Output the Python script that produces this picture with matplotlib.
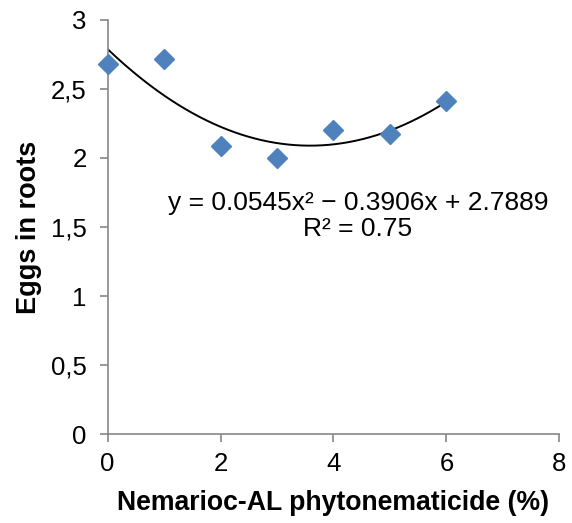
import matplotlib.pyplot as plt
import numpy as np

plt.rcParams['font.family'] = ['Liberation Sans', 'DejaVu Sans']

# data
conc = [0, 1, 2, 3, 4, 5, 6]
eggs = [2.68, 2.72, 2.09, 2.00, 2.20, 2.17, 2.41]
coef = [0.0545, -0.3906, 2.7889]  # trendline y = a x^2 + b x + c
xticks = [0, 2, 4, 6, 8]
yticks = [0, 0.5, 1, 1.5, 2, 2.5, 3]
ytick_labels = ['0', '0,5', '1', '1,5', '2', '2,5', '3']

fig = plt.figure(figsize=(5.72, 5.23), dpi=100)
ax = fig.add_axes([0.188, 0.170, 0.790, 0.792])

xs = np.linspace(min(conc), max(conc), 200)
ax.plot(xs, np.polyval(coef, xs), color='black', lw=1.4, zorder=2)
ax.plot(conc, eggs, linestyle='none', marker='D', ms=10.5, color='#4F81BD',
        markeredgecolor='#4F81BD', zorder=3, clip_on=False)

ax.set_xlim(0, 8)
ax.set_ylim(0, 3)
ax.set_xticks(xticks)
ax.set_yticks(yticks)
ax.set_yticklabels(ytick_labels)

for s in ['top', 'right']:
    ax.spines[s].set_visible(False)
for s in ['left', 'bottom']:
    ax.spines[s].set_color('#868686')
    ax.spines[s].set_linewidth(1.2)
ax.tick_params(direction='out', length=6, width=1.2, color='#868686',
               labelsize=18.5)
ax.tick_params(axis='y', pad=9)
ax.tick_params(axis='x', pad=7)

ax.set_xlabel('Nemarioc-AL phytonematicide (%)', fontsize=19.2,
              fontweight='bold', labelpad=10)
ax.set_ylabel('Eggs in roots', fontsize=19.5, fontweight='bold', labelpad=6)

ax.text(4.43, 1.58, 'y = 0.0545x\u00b2 \u2212 0.3906x + 2.7889\nR\u00b2 = 0.75',
        ha='center', va='center', fontsize=19, linespacing=1.1)

fig.savefig('out.png', dpi=100)
